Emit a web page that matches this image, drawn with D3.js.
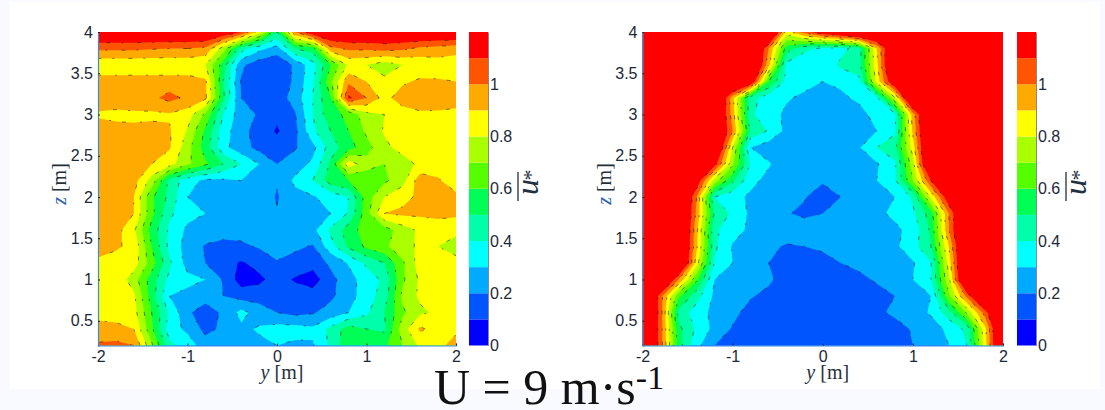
<!DOCTYPE html>
<html>
<head>
<meta charset="utf-8">
<script src="https://cdnjs.cloudflare.com/ajax/libs/d3/7.8.5/d3.min.js"></script>
<style>
  html, body { margin: 0; padding: 0; background: #f9faff; overflow: hidden; }
  svg { display: block; }
  .tick text { font-family: "Liberation Sans", Arial, sans-serif; font-size: 16px; fill: #1c2838; }
  .tick line { stroke: #222; }
  .axis-label { font-family: "Liberation Serif", serif; font-size: 20px; fill: #26303c; }
  .title { font-family: "Liberation Serif", serif; fill: #111; }
</style>
</head>
<body>
<div id="chart"></div>
<script>
// Grid of the measurements
const yNodes = [-2, -1.8, -1.6, -1.4, -1.2, -1, -0.8, -0.6, -0.4, -0.2, 0, 0.2, 0.4, 0.6, 0.8, 1, 1.2, 1.4, 1.6, 1.8, 2];
const zNodes = [4, 3.8, 3.6, 3.4, 3.2, 3, 2.8, 2.6, 2.4, 2.2, 2, 1.8, 1.6, 1.4, 1.2, 1, 0.8, 0.6, 0.4, 0.2];

const yTicks = [-2, -1, 0, 1, 2];
const zTicks = [0.5, 1, 1.5, 2, 2.5, 3, 3.5, 4];
const barTicks = [0, 0.2, 0.4, 0.6, 0.8, 1];

// Colour bands, one per 0.1 of u*
const levels = [0, 0.1, 0.2, 0.3, 0.4, 0.5, 0.6, 0.7, 0.8, 0.9, 1, 1.1];
const bandColors = ["#0000ff", "#0055ff", "#00aaff", "#00ffff", "#00ffaa", "#00ff55",
                    "#55ff00", "#aaff00", "#ffff00", "#ffaa00", "#ff5500", "#ff0000"];

// Values, one row per z (top row is z = 4)
const leftU = [
  [1.25,1.25,1.25,1.25,1.25,1.25,1.25,1.2,1.1,.85,.5,1.0,1.2,1.25,1.25,1.25,1.25,1.25,1.25,1.25,1.25],
  [1.02,1.02,1.02,1.01,1.0,1.0,.98,.75,.45,.33,.26,.5,.55,.97,1.02,1.02,1.04,1.02,.98,.96,.94],
  [.82,.82,.82,.82,.82,.82,.8,.55,.22,.14,.11,.22,.36,.6,.82,.8,.74,.8,.82,.85,.84],
  [.95,.95,.95,.95,.95,.95,.92,.5,.19,.14,.12,.22,.38,.68,.98,.9,.83,.88,.92,.91,.9],
  [.97,.97,.97,.98,1.03,.98,.92,.52,.2,.15,.15,.24,.4,.6,1.12,1.0,.86,.96,.97,.96,.95],
  [.885,.87,.88,.88,.89,.85,.68,.4,.24,.19,.12,.19,.4,.57,.62,.77,.8,.84,.88,.88,.87],
  [.95,.94,.92,.93,.91,.79,.58,.35,.23,.16,.09,.17,.38,.5,.6,.72,.81,.84,.85,.86,.87],
  [.95,.95,.95,.95,.91,.74,.55,.33,.24,.17,.14,.19,.27,.45,.56,.66,.78,.83,.85,.86,.86],
  [.95,.95,.92,.9,.84,.72,.62,.5,.4,.3,.2,.25,.32,.52,.86,.74,.7,.76,.82,.86,.86],
  [.95,.95,.94,.76,.47,.34,.28,.28,.3,.27,.21,.32,.4,.55,.6,.64,.68,.76,.96,.91,.85],
  [.95,.95,.9,.62,.47,.3,.26,.25,.25,.27,.19,.27,.29,.34,.4,.65,.8,.87,.92,.9,.92],
  [.95,.95,.9,.63,.42,.33,.3,.25,.2,.22,.21,.25,.28,.3,.41,.66,.9,.92,.92,.93,.92],
  [.95,.94,.82,.56,.38,.28,.26,.24,.24,.24,.25,.26,.27,.42,.55,.65,.65,.75,.82,.84,.83],
  [.92,.91,.88,.6,.37,.26,.19,.17,.18,.21,.25,.22,.19,.36,.52,.62,.68,.76,.82,.8,.75],
  [.89,.87,.85,.65,.42,.26,.2,.14,.09,.13,.19,.16,.14,.22,.31,.42,.5,.68,.85,.85,.84],
  [.89,.87,.75,.55,.37,.33,.3,.19,.05,.08,.14,.09,.05,.17,.26,.35,.42,.68,.82,.85,.84],
  [.88,.87,.82,.55,.3,.27,.25,.2,.16,.15,.15,.15,.15,.18,.26,.35,.45,.72,.82,.85,.85],
  [.88,.87,.84,.6,.38,.22,.14,.22,.33,.26,.2,.17,.19,.24,.3,.38,.5,.68,.78,.82,.85],
  [.92,.92,.9,.62,.34,.28,.17,.22,.28,.31,.34,.34,.32,.43,.55,.5,.48,.75,.92,.85,.87],
  [1.02,1.03,1.0,.72,.43,.35,.25,.25,.26,.28,.3,.28,.29,.42,.58,.58,.58,.7,.82,.86,.96]
];

// Values
const rightU = [
  [1.4,1.4,1.4,1.4,1.4,1.4,1.4,1.4,.85,1.05,1.2,1.3,1.4,1.4,1.4,1.4,1.4,1.4,1.4,1.4,1.4],
  [1.4,1.4,1.4,1.4,1.4,1.4,1.4,1.0,.55,.42,.38,.37,.44,.9,1.35,1.4,1.4,1.4,1.4,1.4,1.4],
  [1.4,1.4,1.4,1.4,1.4,1.4,1.4,.93,.37,.34,.33,.42,.46,.87,1.4,1.4,1.4,1.4,1.4,1.4,1.4],
  [1.4,1.4,1.4,1.4,1.4,1.4,1.25,.6,.37,.33,.3,.31,.37,.84,1.25,1.4,1.4,1.4,1.4,1.4,1.4],
  [1.4,1.4,1.4,1.4,1.4,.93,.44,.34,.31,.28,.24,.29,.31,.38,.78,1.4,1.4,1.4,1.4,1.4,1.4],
  [1.4,1.4,1.4,1.4,1.35,.95,.42,.34,.28,.25,.24,.23,.28,.32,.38,.95,1.4,1.4,1.4,1.4,1.4],
  [1.4,1.4,1.4,1.4,1.35,1.0,.48,.39,.27,.24,.23,.22,.24,.3,.38,.92,1.4,1.4,1.4,1.4,1.4],
  [1.4,1.4,1.4,1.4,1.35,.8,.3,.25,.24,.22,.2,.24,.29,.4,.47,.85,1.4,1.4,1.4,1.4,1.4],
  [1.4,1.4,1.4,1.4,1.15,.72,.39,.31,.24,.22,.22,.22,.27,.29,.38,.76,1.4,1.4,1.4,1.4,1.4],
  [1.4,1.4,1.4,1.2,.76,.52,.33,.27,.23,.22,.21,.23,.26,.3,.39,.7,1.1,1.4,1.4,1.4,1.4],
  [1.4,1.4,1.4,1.0,.4,.34,.28,.24,.22,.205,.16,.2,.25,.26,.3,.42,.82,1.2,1.4,1.4,1.4],
  [1.4,1.4,1.4,.98,.48,.38,.28,.25,.205,.185,.2,.22,.25,.28,.32,.38,.55,1.0,1.4,1.4,1.4],
  [1.4,1.4,1.4,.93,.42,.34,.28,.26,.25,.24,.24,.24,.23,.24,.28,.33,.52,1.0,1.4,1.4,1.4],
  [1.4,1.4,1.4,.92,.42,.29,.26,.22,.19,.2,.21,.22,.23,.24,.28,.36,.5,.9,1.4,1.4,1.4],
  [1.4,1.4,1.4,.85,.39,.3,.25,.2,.15,.14,.18,.2,.22,.24,.26,.29,.39,.85,1.4,1.4,1.4],
  [1.4,1.4,1.0,.62,.3,.27,.25,.22,.15,.13,.12,.15,.18,.21,.25,.3,.4,.78,1.4,1.4,1.4],
  [1.4,1.05,.63,.44,.28,.25,.21,.17,.15,.13,.12,.12,.13,.17,.2,.25,.3,.68,1.03,1.4,1.4],
  [1.4,1.05,.47,.35,.27,.23,.16,.13,.12,.11,.11,.11,.13,.18,.22,.26,.31,.46,.72,1.05,1.4],
  [1.4,1.05,.53,.38,.27,.19,.14,.12,.11,.11,.11,.11,.11,.13,.16,.21,.26,.32,.43,.87,1.4],
  [1.4,1.05,.55,.33,.2,.17,.13,.12,.11,.11,.11,.11,.12,.13,.15,.2,.25,.3,.4,.85,1.4]
];

const W = 1105, H = 410;
const plotTop = 32, plotBottom = 345.5;

const svg = d3.select("#chart").append("svg")
    .attr("width", W)
    .attr("height", H);

// White slide area behind the plots
svg.append("rect")
    .attr("x", 10).attr("y", 2)
    .attr("width", 1090).attr("height", 387)
    .attr("fill", "#fff");

function drawPanel(id, rows, x0, x1, barX) {
    const x = d3.scaleLinear().domain([-2, 2]).range([x0, x1]);
    const y = d3.scaleLinear().domain([0.2, 4]).range([plotBottom, plotTop]);

    // d3.contours puts sample i at i + 0.5
    const ni = yNodes.length, nj = zNodes.length;
    const colToY = d3.scaleLinear().domain([0.5, ni - 0.5]).range([yNodes[0], yNodes[ni - 1]]);
    const rowToZ = d3.scaleLinear().domain([0.5, nj - 0.5]).range([zNodes[0], zNodes[nj - 1]]);
    const path = d3.geoPath(d3.geoTransform({
        point(a, b) { this.stream.point(x(colToY(a)), y(rowToZ(b))); }
    }));

    const contours = d3.contours()
        .size([ni, nj])
        .thresholds(levels)(rows.flat());

    svg.append("clipPath").attr("id", "clip-" + id)
        .append("rect")
        .attr("x", x0).attr("y", plotTop)
        .attr("width", x1 - x0).attr("height", plotBottom - plotTop);

    const plot = svg.append("g").attr("clip-path", `url(#clip-${id})`);

    plot.selectAll(".band")
        .data(contours)
        .enter().append("path")
        .attr("class", "band")
        .attr("d", path)
        .attr("fill", (d, i) => bandColors[i]);

    // Broken black contour lines
    plot.selectAll(".line")
        .data(contours.slice(1))
        .enter().append("path")
        .attr("class", "line")
        .attr("d", path)
        .attr("fill", "none")
        .attr("stroke", "#000")
        .attr("stroke-width", 0.7)
        .attr("stroke-opacity", 0.7)
        .attr("stroke-dasharray", "4 11 2 14");

    // Axes
    const xAxis = d3.axisBottom(x).tickValues(yTicks).tickSize(-2).tickPadding(5).tickFormat(d => d);
    const yAxis = d3.axisLeft(y).tickValues(zTicks).tickSize(-2).tickPadding(5).tickFormat(d => d);

    const gx = svg.append("g").attr("transform", `translate(0,${plotBottom})`).call(xAxis);
    const gy = svg.append("g").attr("transform", `translate(${x0},0)`).call(yAxis);
    gx.select(".domain").attr("stroke", "#2f8fe8").attr("stroke-width", 1.2);
    gy.select(".domain").attr("stroke", "#2f8fe8").attr("stroke-width", 1.2);

    svg.append("text")
        .attr("class", "axis-label")
        .attr("x", x(0) + 5).attr("y", 379)
        .attr("text-anchor", "middle")
        .html('<tspan font-style="italic">y</tspan> [m]');

    svg.append("text")
        .attr("class", "axis-label")
        .attr("transform", `translate(${x0 - 32},184) rotate(-90)`)
        .attr("text-anchor", "middle")
        .html('<tspan font-style="italic" fill="#2f62b0">z</tspan> [m]');

    // Colour bar
    const c = d3.scaleLinear().domain([0, 1.2]).range([plotBottom, plotTop]);
    svg.append("g").selectAll("rect")
        .data(levels)
        .enter().append("rect")
        .attr("x", barX)
        .attr("y", d => c(d + 0.1))
        .attr("width", 19)
        .attr("height", d => c(d) - c(d + 0.1))
        .attr("fill", (d, i) => bandColors[i]);

    const cAxis = d3.axisRight(c).tickValues(barTicks).tickSize(0).tickPadding(2).tickFormat(d => d);
    const gc = svg.append("g").attr("transform", `translate(${barX + 19},0)`).call(cAxis);
    gc.select(".domain").attr("stroke", "#888");

    // Colour bar label: u* with an overbar, turned
    const lab = svg.append("g").attr("transform", `translate(${barX + 69},187) rotate(-90)`);
    lab.append("text")
        .attr("font-family", "Liberation Serif, serif")
        .attr("font-style", "italic")
        .attr("font-size", 32)
        .attr("fill", "#22303f")
        .attr("text-anchor", "middle")
        .text("u");
    lab.append("text")
        .attr("x", 12).attr("y", 0)
        .attr("font-family", "Liberation Serif, serif")
        .attr("font-size", 22)
        .attr("fill", "#22303f")
        .attr("text-anchor", "middle")
        .text("*");
    lab.append("line")
        .attr("x1", -14).attr("x2", 15)
        .attr("y1", -20).attr("y2", -20)
        .attr("stroke", "#22303f")
        .attr("stroke-width", 1.3);
}

drawPanel("left", leftU, 98, 456, 469);
drawPanel("right", rightU, 642.5, 1003, 1017);

// Caption under the plots
svg.append("text")
    .attr("class", "title")
    .attr("x", 434).attr("y", 404)
    .attr("font-size", 50)
    .html('U = 9 m·s<tspan font-size="34" dy="-15">-1</tspan>');
</script>
</body>
</html>
